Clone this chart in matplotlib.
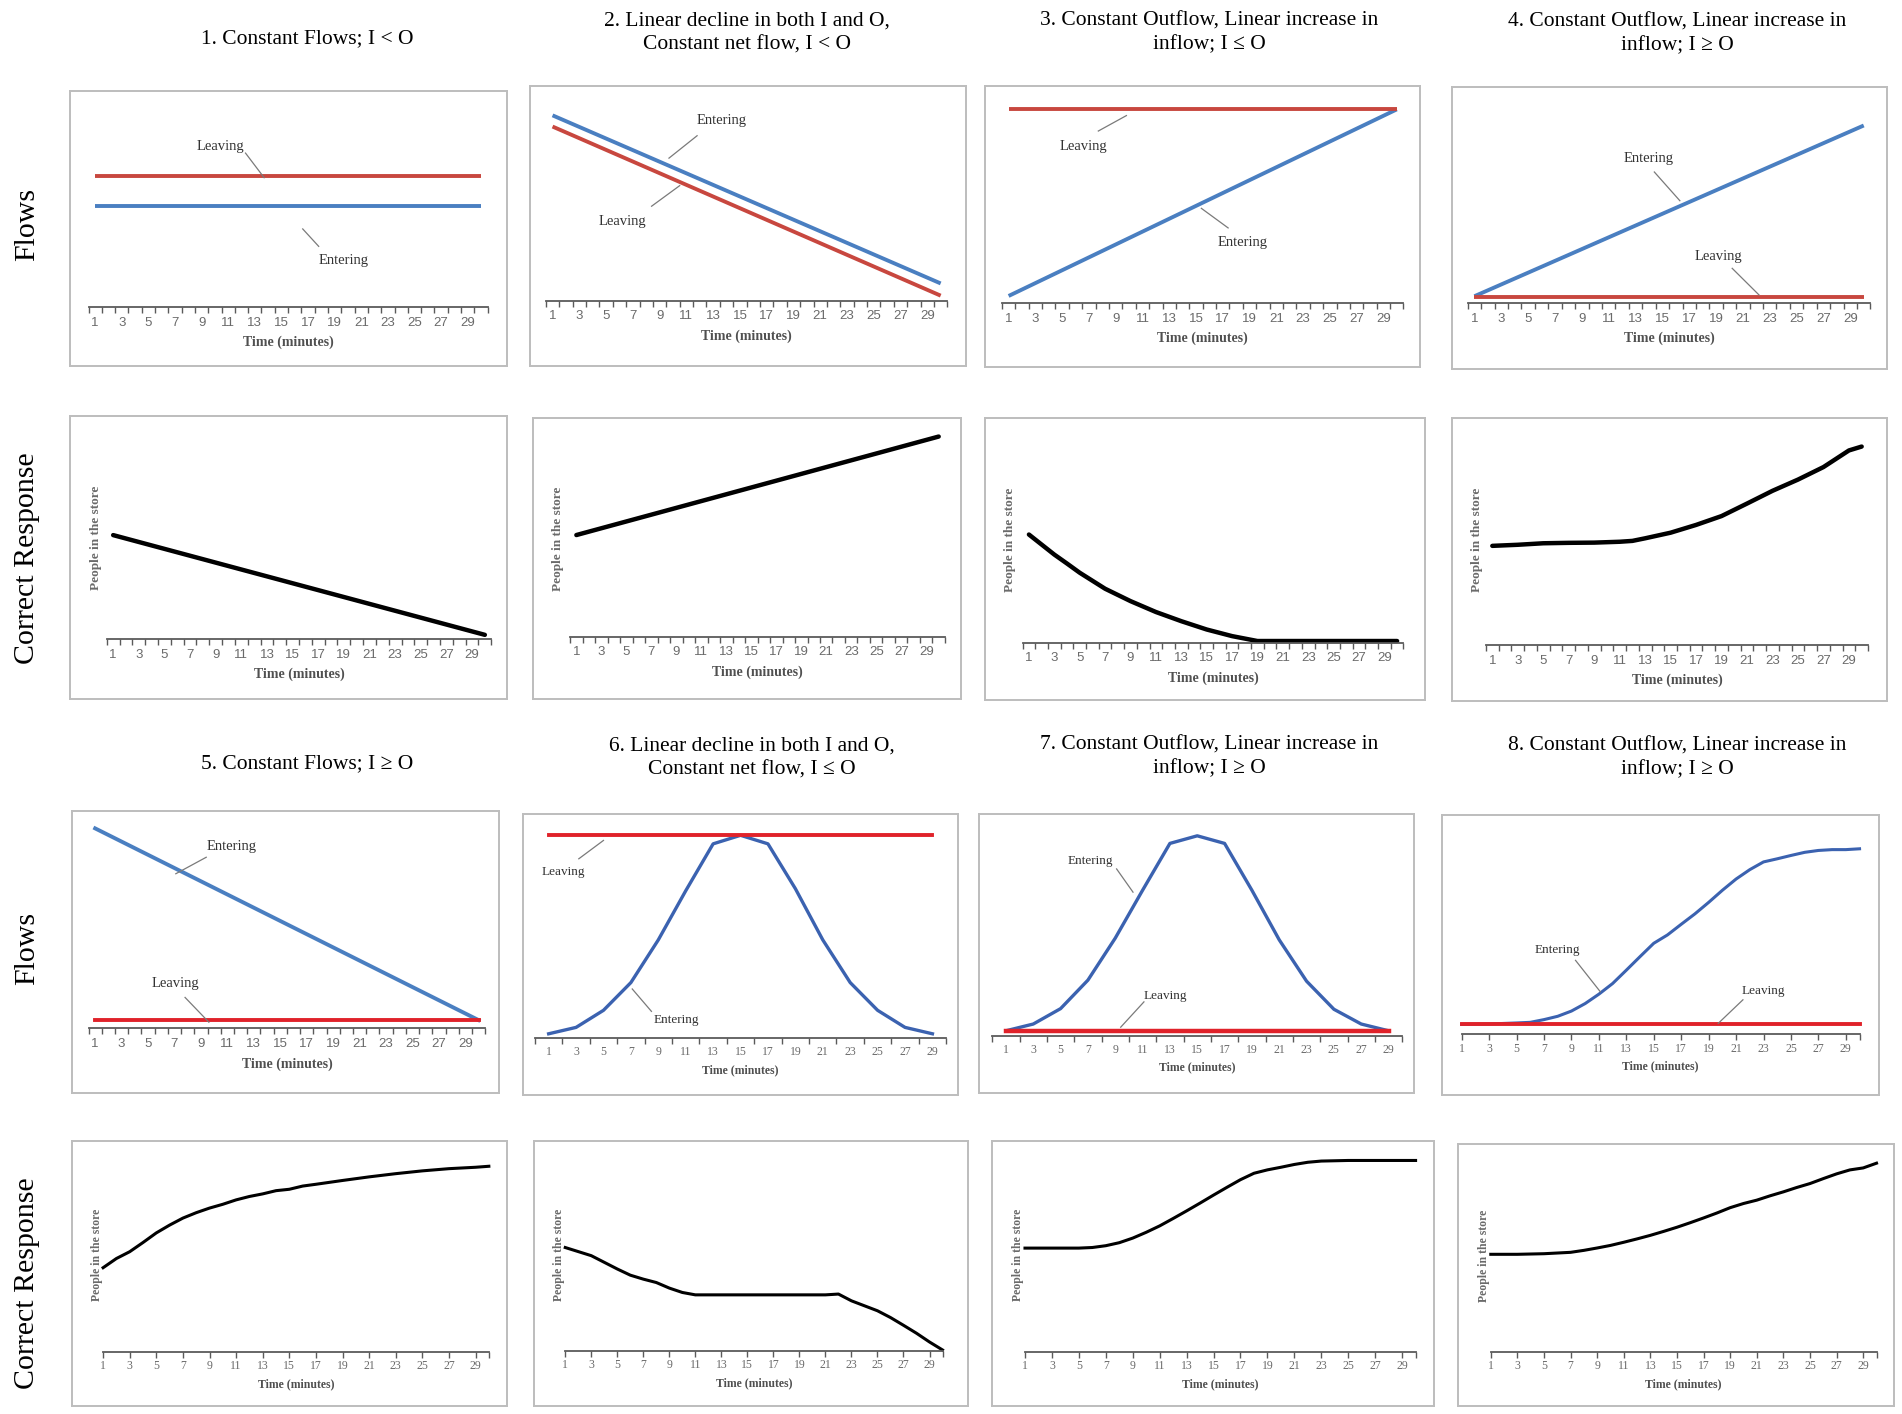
import matplotlib
matplotlib.use("Agg")
import matplotlib.pyplot as plt

SERIF = "Liberation Serif"
SANS = "Liberation Sans"

# layout was measured on a 1568 x 1166 view of the reference
W, H = 1568.0, 1166.0

# ---------------- data (arbitrary units: 0 = time axis, 100 = top of plot) ----------------
# 1. constant flows, I < O
t1 = [1, 30]
enter1 = [49, 49]
leave1 = [64, 64]
# 2. linear decline in both
t2 = [1, 30]
enter2 = [91, 8.5]
leave2 = [85.5, 2.5]
# 3. constant outflow, inflow rising, I <= O
t3 = [1, 30]
enter3 = [3.5, 94]
leave3 = [94, 94]
# 4. constant outflow, inflow rising, I >= O
t4 = [1, 30]
enter4 = [3.4, 86.7]
leave4 = [3, 3]
# 5. constant flows, I >= O
t5 = [1, 30]
enter5 = [97, 4]
leave5 = [4, 4]
# 6. bell shaped inflow under a high outflow
t6 = [1, 3, 5, 7, 9, 11, 13, 15, 17, 19, 21, 23, 25, 27, 29]
enter6 = [2, 5, 13, 26, 46, 69, 91, 95, 91, 70, 46, 26, 13, 5, 2]
t6_leave = [1, 29]
leave6 = [95, 95]
# 7. bell shaped inflow over a low outflow
t7 = [1, 3, 5, 7, 9, 11, 13, 15, 17, 19, 21, 23, 25, 27, 29]
enter7 = [2.3, 5.5, 12.8, 26.3, 46.2, 68.9, 91.1, 94.7, 91.1, 68.9, 45.4, 25.8, 12.5, 5.5, 2.3]
t7_leave = [1, 29]
leave7 = [2.3, 2.3]
# 8. s-shaped inflow
t8 = [1, 3, 5, 6, 7, 8, 9, 10, 11, 12, 13, 14, 15, 16, 17, 18, 19, 20, 21, 22, 23, 24,
      25, 26, 27, 28, 29, 30]
enter8 = [4.8, 5.0, 5.5, 5.8, 7.1, 8.7, 11.2, 14.8, 19.3, 24.4, 30.8, 37.3, 43.7, 47.7,
          52.8, 57.8, 63.3, 69.1, 74.5, 79.0, 82.7, 84.2, 85.8, 87.3, 88.2, 88.6, 88.6, 89.0]
t8_leave = [1, 30]
leave8 = [4.8, 4.8]

# correct responses (people in the store)
r1_t = [1, 30]
r1 = [49, 2]
r2_t = [1, 30]
r2 = [49, 96.5]
r3_t = [1, 2, 3, 4, 5, 7, 9, 11, 13, 15, 17, 19, 30]
r3 = [50.7, 46, 41.3, 37.1, 32.8, 25.3, 19.5, 14.4, 10.1, 6.2, 3.1, 0.8, 0.8]
r4_t = [1, 3, 5, 7, 9, 11, 12, 13, 15, 17, 19, 21, 23, 25, 27, 29, 30]
r4 = [46, 46.5, 47.2, 47.4, 47.5, 47.9, 48.3, 49.5, 52.1, 55.7, 59.8, 65.6, 71.5, 76.7,
      82.5, 90.2, 92]
r5_t = [1, 2, 3, 4, 5, 6, 7, 8, 9, 10, 11, 12, 13, 14, 15, 16, 17, 19, 21, 23, 25, 27, 29, 30]
r5 = [42.2, 46.8, 50.2, 54.8, 59.6, 63.5, 67, 69.7, 72, 73.9, 76.1, 77.8, 79.1, 80.7, 81.4,
      83, 83.9, 85.8, 87.6, 89.2, 90.6, 91.7, 92.4, 92.9]
r6_t = [1, 3, 5, 6, 7, 8, 9, 10, 11, 21, 22, 23, 24, 25, 26, 27, 28, 29, 30]
r6 = [52, 47.9, 41.2, 38.1, 36.1, 34.4, 31.6, 29.4, 28.2, 28.2, 28.6, 25.2, 22.7, 20.2,
      16.8, 12.9, 8.9, 4.5, 0.5]
r7_t = [1, 5, 6, 7, 8, 9, 10, 11, 12, 13, 14, 15, 16, 17, 18, 19, 20, 21, 22, 23, 25, 30]
r7 = [52, 52, 52.3, 53.2, 54.7, 57, 59.9, 63.1, 66.8, 70.6, 74.5, 78.5, 82.4, 86.2, 89.4,
      91.1, 92.4, 93.8, 94.9, 95.5, 95.8, 95.8]
r8_t = [1, 3, 5, 7, 8, 9, 10, 11, 12, 13, 14, 15, 16, 17, 18, 19, 20, 21, 22, 23, 24, 25,
        26, 27, 28, 29, 30]
r8 = [49.5, 49.5, 49.8, 50.5, 51.5, 52.7, 54, 55.6, 57.3, 59.1, 61.1, 63.2, 65.5, 67.9,
      70.4, 73.1, 75.2, 76.9, 79.1, 81.1, 83.3, 85.3, 87.8, 90.2, 92.2, 93.2, 95.6]

titles_top = ["1. Constant Flows; I < O",
              "2. Linear decline in both I and O,\nConstant net flow, I < O",
              "3. Constant Outflow, Linear increase in\ninflow; I \u2264 O",
              "4. Constant Outflow, Linear increase in\ninflow; I \u2265 O"]
titles_bottom = ["5. Constant Flows; I \u2265 O",
                 "6. Linear decline in both I and O,\nConstant net flow, I \u2264 O",
                 "7. Constant Outflow, Linear increase in\ninflow; I \u2265 O",
                 "8. Constant Outflow, Linear increase in\ninflow; I \u2265 O"]
odd_labels = list(range(1, 30, 2))

# ---------------- layout ----------------
fig = plt.figure(figsize=(19.02, 14.14), dpi=100)


def fx(px):
    return px / W


def fy(py):
    return 1 - py / H


def panel(box, inset, mode, small=False):
    l, t, r, b = box
    frame = fig.add_axes([fx(l), fy(b), fx(r) - fx(l), fy(t) - fy(b)])
    frame.set_xticks([])
    frame.set_yticks([])
    for s in frame.spines.values():
        s.set_color("#bdbdbd")
        s.set_linewidth(1.4)
    il, ir, ib = inset
    ax = fig.add_axes([fx(l + il), fy(b - ib), fx(r - ir) - fx(l + il), fy(t + 9) - fy(b - ib)])
    ax.patch.set_alpha(0)
    for s in ["left", "right", "top"]:
        ax.spines[s].set_visible(False)
    ax.spines["bottom"].set_color("#5a5a5a")
    ax.spines["bottom"].set_linewidth(1.3)
    ax.set_yticks([])
    ax.set_ylim(0, 100)
    ax.xaxis.remove_overlapping_locs = False
    if mode == "between":
        ax.set_xlim(0.5, 30.5)
        ax.set_xticks([v + 0.5 for v in range(0, 31)])
    elif mode == "cat15":
        ax.set_xlim(0, 30)
        ax.set_xticks(list(range(0, 31, 2)))
    else:
        ax.set_xlim(1, 30)
        ax.set_xticks(odd_labels + [30])
    ax.set_xticklabels([])
    ax.set_xticks(odd_labels, minor=True)
    ax.set_xticklabels([str(v) for v in odd_labels], minor=True)
    ax.tick_params(which="major", length=4, width=1, direction="out", color="#5a5a5a")
    ax.tick_params(which="minor", length=0, pad=7 if not small else 6,
                   labelcolor="#6a6a6a", labelsize=9.5 if not small else 8.5)
    for lab in ax.get_xticklabels(minor=True):
        lab.set_family(SANS if not small else SERIF)
    ax.set_xlabel("Time (minutes)", family=SERIF, fontweight="bold", color="#505050",
                  fontsize=10 if not small else 8.5, labelpad=5 if not small else 4)
    return ax


def note(ax, label, text_xy, line_from, line_to, size=10.5):
    ax.text(text_xy[0], text_xy[1], label, family=SERIF, fontsize=size, color="#333333",
            ha="center", va="center")
    ax.plot([line_from[0], line_to[0]], [line_from[1], line_to[1]], color="#7a7a7a", lw=0.9)


def people_label(box, size):
    l, t, r, b = box
    fig.text(fx(l + 21), fy(t + 0.43 * (b - t)), "People in the store", rotation=90,
             family=SERIF, fontweight="bold", color="#6a6a6a", fontsize=size,
             ha="center", va="center")


BLUE1, RED1 = "#4a7fc1", "#c8473f"
BLUE2, RED2 = "#3b62b0", "#e0222a"

# row 1: flows
boxes1 = [(58, 75, 418, 302), (437, 71, 796, 302), (812, 71, 1171, 303), (1197, 72, 1556, 304)]
insets1 = [(15, 16, 49), (13, 15, 54), (14, 14, 53), (13, 14, 54)]
flows1 = [(t1, enter1, t1, leave1), (t2, enter2, t2, leave2),
          (t3, enter3, t3, leave3), (t4, enter4, t4, leave4)]
axes1 = []
for box, ins, (te, e, tl, lv) in zip(boxes1, insets1, flows1):
    ax = panel(box, ins, "between")
    ax.plot(te, e, color=BLUE1, lw=2.8, clip_on=False, solid_capstyle="butt")
    ax.plot(tl, lv, color=RED1, lw=2.8, clip_on=False, solid_capstyle="butt")
    axes1.append(ax)
note(axes1[0], "Leaving", (10.4, 78), (12.3, 75), (13.7, 63))
note(axes1[0], "Entering", (19.7, 22.5), (16.6, 38), (17.8, 29.5))
note(axes1[1], "Entering", (13.6, 88.7), (11.8, 81), (9.7, 70))
note(axes1[1], "Leaving", (6.2, 39), (8.4, 46.4), (10.5, 56.5))
note(axes1[2], "Leaving", (6.6, 76), (7.7, 83.5), (9.8, 91))
note(axes1[2], "Entering", (18.5, 29.4), (17.4, 36.5), (15.4, 46))
note(axes1[3], "Entering", (14, 70.4), (14.4, 64), (16.3, 50))
note(axes1[3], "Leaving", (19.2, 23), (20.2, 17), (22.2, 4))

# row 2: correct responses
boxes2 = [(58, 343, 418, 576), (439, 345, 792, 576), (812, 345, 1175, 577), (1197, 345, 1556, 578)]
insets2 = [(30, 13, 49), (31, 13, 51), (31, 18, 47), (28, 16, 46)]
resp2 = [(r1_t, r1), (r2_t, r2), (r3_t, r3), (r4_t, r4)]
for box, ins, (tt, yy) in zip(boxes2, insets2, resp2):
    ax = panel(box, ins, "between")
    ax.plot(tt, yy, color="black", lw=3.2, clip_on=False, solid_capstyle="round")
    people_label(box, 9.5)

# row 3: flows
boxes3 = [(59, 669, 411, 901), (431, 671, 790, 903), (807, 671, 1166, 901), (1189, 672, 1549, 903)]
ax5 = panel(boxes3[0], (14, 11, 53), "between")
ax5.plot(t5, enter5, color=BLUE1, lw=2.8, clip_on=False)
ax5.plot(t5, leave5, color=RED2, lw=2.8, clip_on=False)
note(ax5, "Entering", (11.3, 88), (9.4, 83), (7.1, 75))
note(ax5, "Leaving", (7.1, 22), (7.8, 15), (9.6, 3))

ax6 = panel(boxes3[1], (10, 10, 47), "cat15", small=True)
ax6.plot(t6, enter6, color=BLUE2, lw=2.4, clip_on=False)
ax6.plot(t6_leave, leave6, color=RED2, lw=2.8, clip_on=False)
note(ax6, "Leaving", (2.1, 78), (3.2, 84), (5, 92.6), size=9.5)
note(ax6, "Entering", (10.3, 8.5), (8.5, 12.5), (7.1, 23), size=9.5)

ax7 = panel(boxes3[2], (11, 10, 47), "cat15", small=True)
ax7.plot(t7, enter7, color=BLUE2, lw=2.4, clip_on=False)
ax7.plot(t7_leave, leave7, color=RED2, lw=3.2, clip_on=False)
note(ax7, "Entering", (7.2, 83), (9.1, 79), (10.3, 68), size=9.5)
note(ax7, "Leaving", (12.7, 19), (11.1, 16), (9.4, 4), size=9.5)

ax8 = panel(boxes3[3], (16, 16, 50), "on", small=True)
ax8.plot(t8, enter8, color=BLUE2, lw=2.2, clip_on=False)
ax8.plot(t8_leave, leave8, color=RED2, lw=2.8, clip_on=False)
note(ax8, "Entering", (7.96, 40.7), (9.3, 35.5), (11.1, 20.5), size=9.5)
note(ax8, "Leaving", (23, 21), (21.5, 16.6), (19.7, 5.3), size=9.5)

# row 4: correct responses
boxes4 = [(59, 941, 418, 1159), (440, 941, 798, 1159), (818, 941, 1182, 1159), (1202, 943, 1561, 1159)]
insets4 = [(26, 15, 44), (26, 21, 45), (27, 15, 44), (27, 14, 44)]
resp4 = [(r5_t, r5), (r6_t, r6), (r7_t, r7), (r8_t, r8)]
for box, ins, (tt, yy) in zip(boxes4, insets4, resp4):
    ax = panel(box, ins, "on", small=True)
    ax.plot(tt, yy, color="black", lw=2.2, clip_on=False)
    people_label(box, 8.5)

# titles and row labels
title_pos_top = [(253, 32), (616, 27), (997, 27), (1383, 28)]
title_pos_bottom = [(253, 630), (620, 625), (997, 624), (1383, 625)]
for txt, (x, y) in zip(titles_top + titles_bottom, title_pos_top + title_pos_bottom):
    fig.text(fx(x), fy(y), txt, family=SERIF, fontsize=15.5, ha="center", va="center",
             linespacing=1.35)

for txt, y in [("Flows", 185), ("Correct Response", 460), ("Flows", 782), ("Correct Response", 1058)]:
    fig.text(fx(22), fy(y), txt, family=SERIF, fontsize=21.5, rotation=90,
             ha="center", va="center")

fig.savefig("out.png", dpi=100)
